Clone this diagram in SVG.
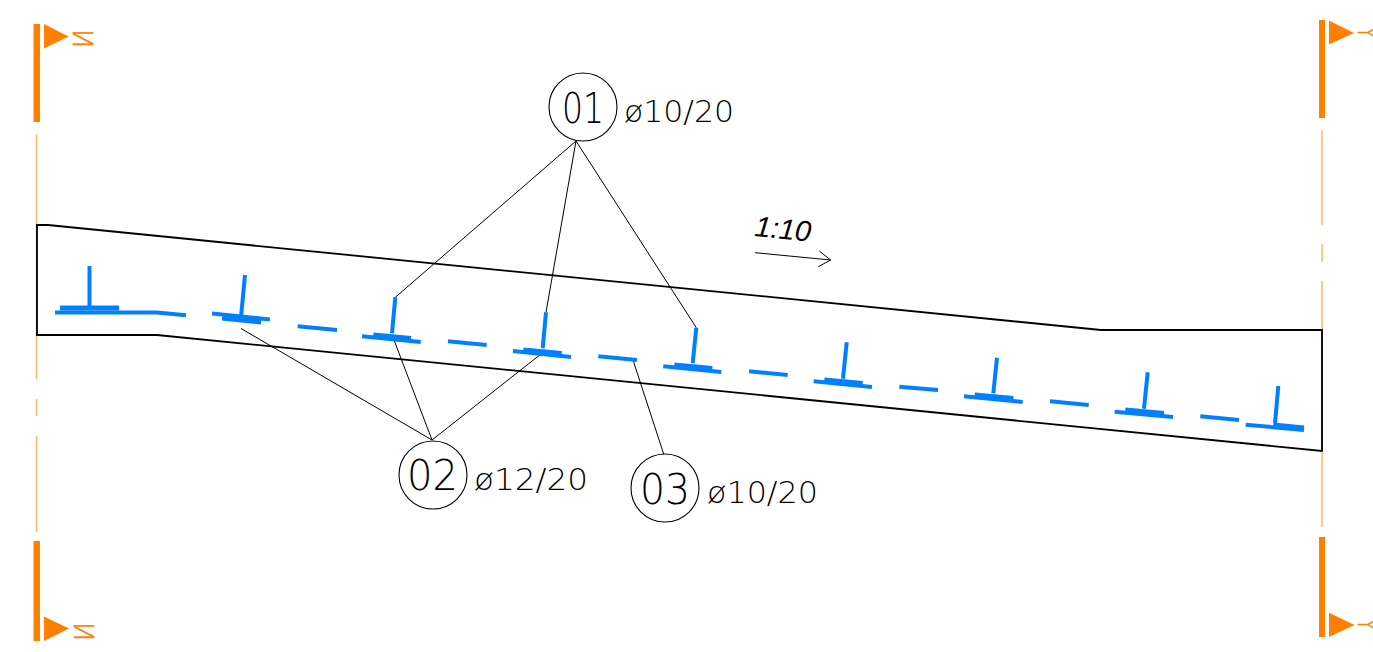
<svg xmlns="http://www.w3.org/2000/svg" width="1373" height="652" viewBox="0 0 1373 652">
<style>
.bar{fill:#ff8000}
.axis{stroke:#ffb870;stroke-width:1.5;fill:none}
.outline{stroke:#000;stroke-width:1.8;fill:none}
.lead{stroke:#000;stroke-width:1;fill:none}
.bubble{stroke:#000;stroke-width:1.1;fill:#fff}
.r{stroke:#0080ff;stroke-width:4;fill:none}
.b{stroke:#0080ff;stroke-width:5;fill:none}
.s{stroke:#0080ff;stroke-width:4;fill:none}
.cad{font-family:"DejaVu Sans",sans-serif;font-weight:200;fill:#000}
.num{font-size:42px}
.lab{font-size:30px}
.sec{font-family:"DejaVu Sans",sans-serif;font-weight:200;font-size:27px;fill:#ff8000;stroke:#ff8000;stroke-width:.5}
</style>
<rect width="1373" height="652" fill="#fff"/>
<g id="section-left">
<rect class="bar" x="33.5" y="24" width="6.5" height="98"/>
<rect class="bar" x="33.5" y="541" width="6.5" height="100"/>
<polygon class="bar" points="44,24 44,48.5 68.5,36.5"/>
<polygon class="bar" points="44,616.5 44,641 69,628.5"/>
<path class="axis" d="M36.5 134V379M36.5 399V416M36.5 436V532"/>
<text class="sec" transform="translate(92.7,29) rotate(90) scale(1,-1)">N</text>
<text class="sec" transform="translate(93.7,622) rotate(90) scale(1,-1)">N</text>
</g>
<g id="section-right">
<rect class="bar" x="1319" y="20" width="6" height="98"/>
<rect class="bar" x="1319" y="537" width="6" height="100"/>
<polygon class="bar" points="1329,20.5 1329,44.5 1354,33"/>
<polygon class="bar" points="1329,612.7 1329,637 1354.5,625"/>
<path class="axis" d="M1322 130V225M1322 244V262M1322 281V527"/>
<text class="sec" transform="translate(1358,26) rotate(90) scale(.8,1)">Y</text>
<text class="sec" transform="translate(1358,618) rotate(90) scale(.8,1)">Y</text>
</g>
<g id="slab">
<path class="outline" d="M37 225H48L1101 330H1322V451L157 335H37Z"/>
</g>
<g id="connectors">
<path class="lead" d="M576 141L395.3 297.3M576 141L546 312.3M576 141L696.3 327.7"/>
<path class="lead" d="M432 440L241 328.5M432 440L394 340M432 440L541 354"/>
<path class="lead" d="M664 455L633 360"/>
<path class="lead" d="M755 252.7L830.7 260M819.3 251L830.7 260L818.3 266.7"/>
</g>
<g id="rebar">
<path class="r" d="M55 312.5H157L186 315.3"/>
<path class="b" d="M60 308H119"/>
<path class="s" d="M89.5 266V307"/>
<path class="r" d="M212 313.5L270 319.5M222 318.5L261 322.5"/>
<path class="s" d="M245 275L241 317"/>
<path class="r" d="M297.7 326.3L337 330M448 341.3L486.7 345M598.3 356.3L637 360M749 371.3L787.7 375M899.3 386.7L938 390M1050 401.3L1088.7 405M1200.3 416.3L1239 420"/>
<path class="r" d="M362 336.3L420.7 342"/><path class="b" d="M373.3 335L411 338.5"/><path class="s" d="M395.3 297.3L392 333.3"/>
<path class="r" d="M513 351L571 357"/><path class="b" d="M523.3 350L561.7 353.5"/><path class="s" d="M546 312.3L542.7 348.3"/>
<path class="r" d="M663.3 366.3L721.3 372"/><path class="b" d="M674.3 365L712.3 368.5"/><path class="s" d="M696.3 327.7L692.7 363.3"/>
<path class="r" d="M813.7 381.3L872 387"/><path class="b" d="M824.3 380L862.7 383.5"/><path class="s" d="M846.7 342.3L843 378.7"/>
<path class="r" d="M964 396.3L1022.7 402"/><path class="b" d="M974.7 395L1013.3 398.5"/><path class="s" d="M997 357.7L993.3 393.3"/>
<path class="r" d="M1114.7 411.7L1173 417"/><path class="b" d="M1125.3 410L1164 413.5"/><path class="s" d="M1147.7 372.3L1144 408.7"/>
<path class="r" d="M1245.7 424.7L1304 430"/><path class="b" d="M1273.3 425L1304 428"/><path class="s" d="M1278.3 386L1275 423.3"/>
</g>
<g id="node-01">
<circle class="bubble" cx="583" cy="107" r="34"/>
<text class="cad num" x="562" y="123" textLength="42" lengthAdjust="spacingAndGlyphs">01</text>
<text class="cad lab" x="624" y="122" textLength="110" lengthAdjust="spacingAndGlyphs">ø10/20</text>
</g>
<g id="node-02">
<circle class="bubble" cx="433" cy="475" r="34"/>
<text class="cad num" x="407" y="490" textLength="51" lengthAdjust="spacingAndGlyphs">02</text>
<text class="cad lab" x="474" y="490" textLength="114" lengthAdjust="spacingAndGlyphs">ø12/20</text>
</g>
<g id="node-03">
<circle class="bubble" cx="665" cy="488" r="34"/>
<text class="cad num" x="640" y="504" textLength="50" lengthAdjust="spacingAndGlyphs">03</text>
<text class="cad lab" x="707" y="503" textLength="111" lengthAdjust="spacingAndGlyphs">ø10/20</text>
</g>
<g id="slope-label">
<text transform="translate(754,236) rotate(5.7)" font-family="'Liberation Sans',sans-serif" font-style="italic" font-size="29" fill="#000">1:10</text>
</g>
</svg>
